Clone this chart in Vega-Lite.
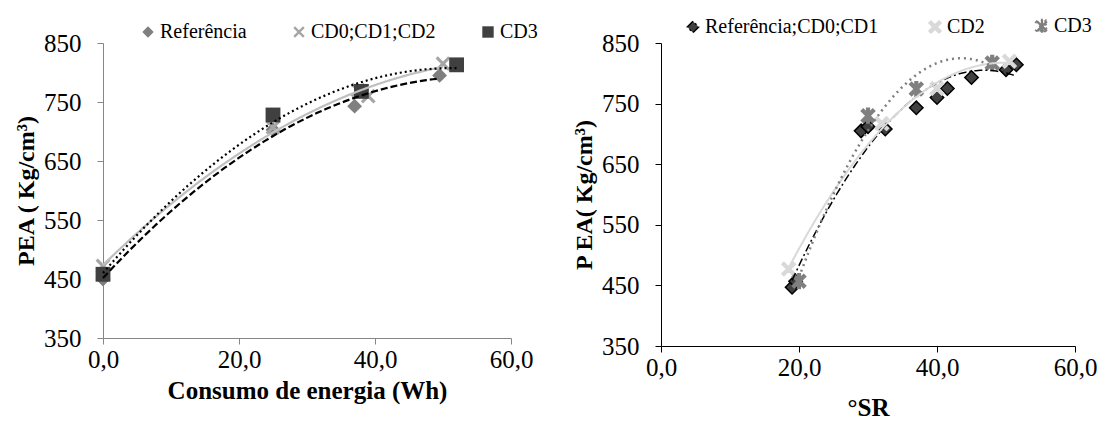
{
  "$schema": "https://vega.github.io/schema/vega-lite/v6.json",
  "background": "white",
  "padding": {"left": 14, "top": 16, "right": 5, "bottom": 0},
  "spacing": 34,
  "resolve": {
    "scale": {"fill": "independent", "shape": "independent", "stroke": "independent", "strokeDash": "independent", "strokeWidth": "independent", "x": "independent", "y": "independent"},
    "legend": {"fill": "independent", "shape": "independent", "stroke": "independent"}
  },
  "config": {
    "font": "Liberation Serif",
    "view": {"stroke": null},
    "axis": {
      "grid": false,
      "labelFont": "Liberation Serif",
      "titleFont": "Liberation Serif",
      "labelFontSize": 25,
      "titleFontSize": 25,
      "titleFontWeight": "bold",
      "labelColor": "black",
      "titleColor": "black",
      "tickSize": 6,
      "labelFlush": false,
      "labelOverlap": false
    },
    "legend": {
      "orient": "none",
      "direction": "horizontal",
      "columns": 3,
      "title": null,
      "labelFont": "Liberation Serif",
      "labelFontSize": 20,
      "labelColor": "black",
      "labelOffset": 2,
      "labelLimit": 400,
      "symbolSize": 130
    }
  },
  "datasets": {
    "left": [
      {"series": "Referência", "x": 0, "y": 450},
      {"series": "Referência", "x": 25, "y": 703},
      {"series": "Referência", "x": 37, "y": 743},
      {"series": "Referência", "x": 49.5, "y": 795},
      {"series": "CD0;CD1;CD2", "x": 0, "y": 472},
      {"series": "CD0;CD1;CD2", "x": 25, "y": 707},
      {"series": "CD0;CD1;CD2", "x": 37.5, "y": 770},
      {"series": "CD0;CD1;CD2", "x": 39, "y": 760},
      {"series": "CD0;CD1;CD2", "x": 50, "y": 815},
      {"series": "CD3", "x": 0, "y": 458},
      {"series": "CD3", "x": 25, "y": 728},
      {"series": "CD3", "x": 38, "y": 768},
      {"series": "CD3", "x": 52, "y": 813}
    ],
    "right": [
      {"series": "Referência;CD0;CD1", "x": 19, "y": 447},
      {"series": "Referência;CD0;CD1", "x": 19.5, "y": 457},
      {"series": "Referência;CD0;CD1", "x": 29, "y": 705},
      {"series": "Referência;CD0;CD1", "x": 30, "y": 712},
      {"series": "Referência;CD0;CD1", "x": 32.5, "y": 708},
      {"series": "Referência;CD0;CD1", "x": 37, "y": 743},
      {"series": "Referência;CD0;CD1", "x": 40, "y": 760},
      {"series": "Referência;CD0;CD1", "x": 41.5, "y": 775},
      {"series": "Referência;CD0;CD1", "x": 45, "y": 793},
      {"series": "Referência;CD0;CD1", "x": 50, "y": 806},
      {"series": "Referência;CD0;CD1", "x": 51.5, "y": 814},
      {"series": "CD2", "x": 18.5, "y": 477},
      {"series": "CD2", "x": 32, "y": 717},
      {"series": "CD2", "x": 40, "y": 775},
      {"series": "CD2", "x": 50.5, "y": 820},
      {"series": "CD3", "x": 20, "y": 457},
      {"series": "CD3", "x": 30, "y": 730},
      {"series": "CD3", "x": 37, "y": 774},
      {"series": "CD3", "x": 48, "y": 817}
    ]
  },
  "hconcat": [
    {
      "width": 408,
      "height": 295,
      "layer": [
        {
          "data": {"name": "left"},
          "mark": {"type": "point", "filled": true, "opacity": 1, "strokeWidth": 0, "size": 220},
          "encoding": {
            "x": {"field": "x", "type": "quantitative", "scale": {"domain": [0, 60]},
              "axis": {"values": [0, 20, 40, 60], "labelExpr": "replace(format(datum.value, '.1f'), '.', ',')", "labelFont": "Liberation Serif", "title": "Consumo de energia (Wh)", "domainColor": "#868686", "tickColor": "#868686", "labelPadding": 3, "titlePadding": 6}},
            "y": {"field": "y", "type": "quantitative", "scale": {"domain": [350, 850]},
              "axis": {"values": [350, 450, 550, 650, 750, 850], "labelFont": "Liberation Serif", "title": "PEA ( Kg/cm³)", "titleFontSize": 24, "domainColor": "#868686", "tickColor": "#868686", "labelPadding": 16, "titlePadding": 5}},
            "fill": {"field": "series", "type": "nominal",
              "scale": {"domain": ["Referência", "CD0;CD1;CD2", "CD3"], "range": ["#7f7f7f", "#a6a6a6", "#404040"]},
              "legend": {"legendX": 35, "legendY": -21, "columnPadding": 42, "symbolStrokeWidth": 0, "labelFont": "Liberation Serif"}},
            "shape": {"field": "series", "type": "nominal",
              "scale": {"domain": ["Referência", "CD0;CD1;CD2", "CD3"], "range": ["diamond", "M-1,-0.7L-0.7,-1L0,-0.3L0.7,-1L1,-0.7L0.3,0L1,0.7L0.7,1L0,0.3L-0.7,1L-1,0.7L-0.3,0Z", "square"]},
              "legend": {"legendX": 35, "legendY": -21, "columnPadding": 42, "symbolStrokeWidth": 0, "labelFont": "Liberation Serif"}}
          }
        },
        {
          "data": {"name": "left"},
          "transform": [{"regression": "y", "on": "x", "groupby": ["series"], "method": "poly", "order": 2}],
          "mark": {"type": "line", "strokeWidth": 2.2},
          "encoding": {
            "x": {"field": "x", "type": "quantitative"},
            "y": {"field": "y", "type": "quantitative"},
            "stroke": {"field": "series", "type": "nominal",
              "scale": {"domain": ["Referência", "CD0;CD1;CD2", "CD3"], "range": ["#000000", "#bfbfbf", "#000000"]}, "legend": null},
            "strokeDash": {"field": "series", "type": "nominal",
              "scale": {"domain": ["Referência", "CD0;CD1;CD2", "CD3"], "range": [[7, 3], [1, 0], [2, 3]]}, "legend": null}
          }
        }
      ]
    },
    {
      "width": 414,
      "height": 303,
      "layer": [
        {
          "data": {"name": "right"},
          "mark": {"type": "point", "filled": true, "opacity": 1, "strokeWidth": 1.5, "size": 180},
          "encoding": {
            "x": {"field": "x", "type": "quantitative", "scale": {"domain": [0, 60]},
              "axis": {"values": [0, 20, 40, 60], "labelExpr": "replace(format(datum.value, '.1f'), '.', ',')", "labelFont": "Liberation Serif", "title": "°SR", "domainColor": "black", "tickColor": "black", "labelPadding": 3, "titlePadding": 15}},
            "y": {"field": "y", "type": "quantitative", "scale": {"domain": [350, 850]},
              "axis": {"values": [350, 450, 550, 650, 750, 850], "labelFont": "Liberation Serif", "title": "P EA( Kg/cm³)", "titleFontSize": 24, "domainColor": "black", "tickColor": "black", "labelPadding": 16, "titlePadding": 5}},
            "fill": {"field": "series", "type": "nominal",
              "scale": {"domain": ["Referência;CD0;CD1", "CD2", "CD3"], "range": ["#404040", "#d9d9d9", "#7f7f7f"]},
              "legend": {"legendX": 22, "legendY": -27, "columnPadding": 46, "labelFont": "Liberation Serif"}},
            "shape": {"field": "series", "type": "nominal",
              "scale": {"domain": ["Referência;CD0;CD1", "CD2", "CD3"], "range": ["diamond", "M-1,-0.7L-0.7,-1L0,-0.3L0.7,-1L1,-0.7L0.3,0L1,0.7L0.7,1L0,0.3L-0.7,1L-1,0.7L-0.3,0Z", "M-1,-0.7L-0.7,-1L0,-0.3L0.7,-1L1,-0.7L0.3,0L1,0.7L0.7,1L0,0.3L-0.7,1L-1,0.7L-0.3,0ZM-0.2,-1.1L0.2,-1.1L0.2,1.1L-0.2,1.1Z"]},
              "legend": {"legendX": 22, "legendY": -27, "columnPadding": 46, "labelFont": "Liberation Serif"}},
            "stroke": {"field": "series", "type": "nominal",
              "scale": {"domain": ["Referência;CD0;CD1", "CD2", "CD3"], "range": ["#000000", "#d9d9d9", "#808080"]},
              "legend": {"legendX": 22, "legendY": -27, "columnPadding": 46, "labelFont": "Liberation Serif"}}
          }
        },
        {
          "data": {"name": "right"},
          "transform": [{"regression": "y", "on": "x", "groupby": ["series"], "method": "poly", "order": 2}],
          "mark": {"type": "line"},
          "encoding": {
            "x": {"field": "x", "type": "quantitative"},
            "y": {"field": "y", "type": "quantitative"},
            "stroke": {"field": "series", "type": "nominal"},
            "strokeWidth": {"field": "series", "type": "nominal",
              "scale": {"domain": ["Referência;CD0;CD1", "CD2", "CD3"], "range": [1.5, 2.5, 3]}, "legend": null},
            "strokeDash": {"field": "series", "type": "nominal",
              "scale": {"domain": ["Referência;CD0;CD1", "CD2", "CD3"], "range": [[8, 3, 2, 3], [1, 0], [2, 4]]}, "legend": null}
          }
        }
      ]
    }
  ]
}
